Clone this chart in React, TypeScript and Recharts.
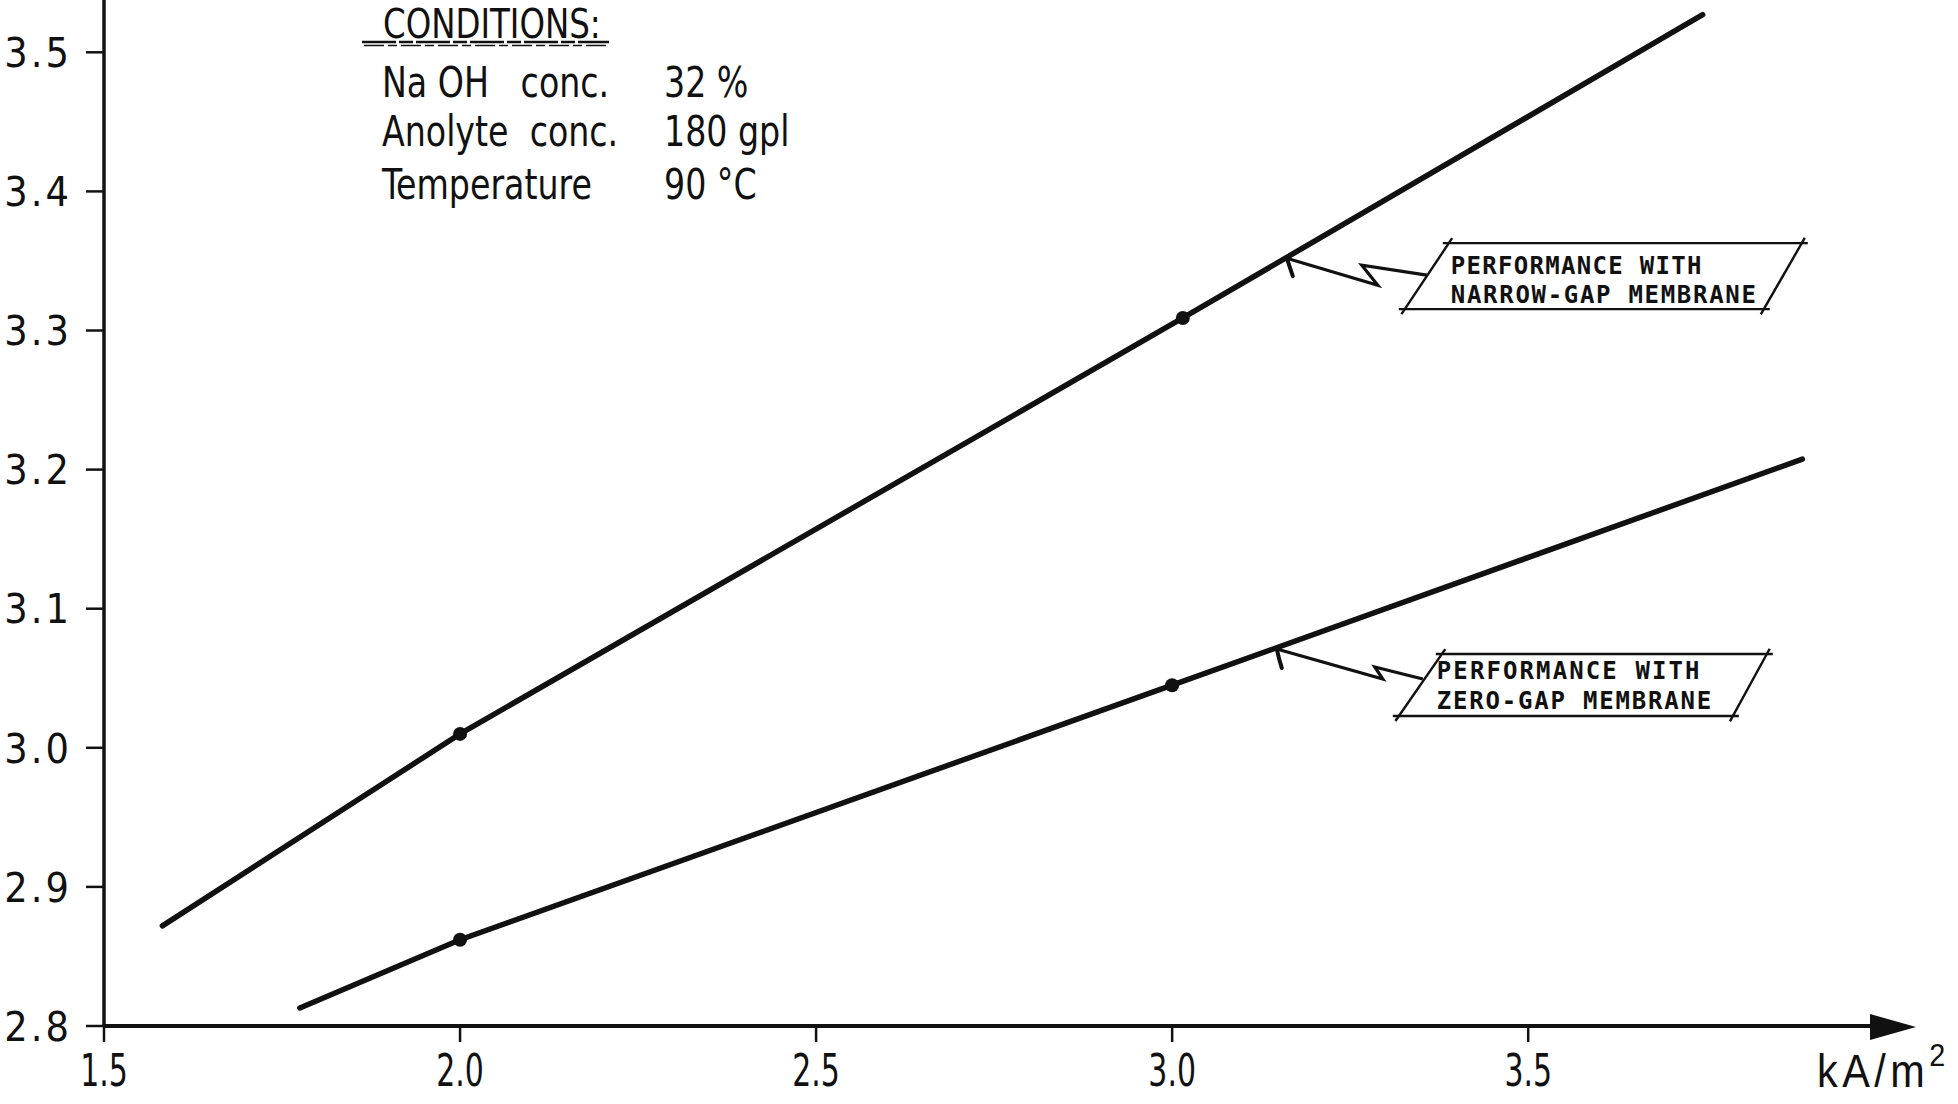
import React from 'react';
import { ComposedChart, Line, Scatter, XAxis, YAxis, ReferenceDot } from 'recharts';

// ---------- data ----------
const X_TICKS = [1.5, 2.0, 2.5, 3.0, 3.5];
const Y_TICKS = [2.8, 2.9, 3.0, 3.1, 3.2, 3.3, 3.4, 3.5];

const narrowX = [1.582, 2.0, 3.015, 3.745];
const narrowY = [2.872, 3.01, 3.309, 3.527];
const narrowMeasuredX = [2.0, 3.015];
const narrowMeasuredY = [3.01, 3.309];

const zeroX = [1.775, 2.0, 3.0, 3.885];
const zeroY = [2.813, 2.862, 3.045, 3.2075];
const zeroMeasuredX = [2.0, 3.0];
const zeroMeasuredY = [2.862, 3.045];

const narrowNote = ['PERFORMANCE WITH', 'NARROW-GAP MEMBRANE'];
const zeroNote = ['PERFORMANCE WITH', 'ZERO-GAP MEMBRANE'];
const narrowNoteAnchor = [3.161, 3.352];
const zeroNoteAnchor = [3.147, 3.071];

const conditionsTitle = 'CONDITIONS:';
const conditionNames = ['Na OH   conc.', 'Anolyte  conc.', 'Temperature'];
const conditionValues = ['32 %', '180 gpl', '90 °C'];
const xUnit = 'kA/m';
const xUnitExp = '2';

const X_DOMAIN = [1.5, 3.98];
const Y_DOMAIN = [2.8, 3.5376];

// ---------- build series ----------
const zip = (xs: number[], ys: number[]) => xs.map((x, i) => ({ x, y: ys[i] }));
const narrowCurve = zip(narrowX, narrowY);
const narrowPoints = zip(narrowMeasuredX, narrowMeasuredY);
const zeroCurve = zip(zeroX, zeroY);
const zeroPoints = zip(zeroMeasuredX, zeroMeasuredY);

const INK = '#111';
const COND = "'DejaVu Sans Condensed', 'DejaVu Sans', sans-serif";
const MONO = "'DejaVu Sans Mono', 'Liberation Mono', monospace";

type Pt = [number, number];

function extLine(a: Pt, b: Pt, ext: number, key: string) {
  const dx = b[0] - a[0];
  const dy = b[1] - a[1];
  const len = Math.hypot(dx, dy) || 1;
  const ux = (dx / len) * ext;
  const uy = (dy / len) * ext;
  return (
    <line
      key={key}
      x1={a[0] - ux}
      y1={a[1] - uy}
      x2={b[0] + ux}
      y2={b[1] + uy}
      stroke={INK}
      strokeWidth={2.4}
    />
  );
}

interface NoteGeom {
  hook: Pt;
  leader: Pt[];
  box: Pt[]; // TL, TR, BR, BL
  textX: number;
  baselines: number[];
  spacing: number[];
}

const narrowGeom: NoteGeom = {
  hook: [6, 18],
  leader: [[0, 0], [91, 27], [75, 7], [140, 17]],
  box: [[162, -15], [515, -15], [477, 51], [118, 51]],
  textX: 164,
  baselines: [16, 45],
  spacing: [1.3, 1.7],
};

const zeroGeom: NoteGeom = {
  hook: [5, 19],
  leader: [[0, 0], [106, 30], [98, 18], [146, 30]],
  box: [[165, 5], [490, 5], [456, 67], [122, 67]],
  textX: 160,
  baselines: [30, 60],
  spacing: [2.1, 1.8],
};

const makeNote = (geom: NoteGeom, lines: string[]) => (props: any) => {
  const cx = props.cx;
  const cy = props.cy;
  if (cx == null || cy == null) return <g />;
  const P = (p: Pt): Pt => [cx + p[0], cy + p[1]];
  const lead = geom.leader.map(P);
  const b = geom.box.map(P);
  return (
    <g>
      <path
        d={`M${cx},${cy} Q${cx + geom.hook[0] - 3},${cy + geom.hook[1] / 2} ${cx + geom.hook[0]},${cy + geom.hook[1]}`}
        stroke={INK}
        strokeWidth={4}
        fill="none"
        strokeLinecap="round"
      />
      <polyline
        points={lead.map((p) => p.join(',')).join(' ')}
        stroke={INK}
        strokeWidth={3.2}
        fill="none"
        strokeLinejoin="miter"
      />
      {extLine(b[0], b[1], 6, 't')}
      {extLine(b[1], b[2], 6, 'r')}
      {extLine(b[3], b[2], 6, 'b')}
      {extLine(b[0], b[3], 6, 'l')}
      {lines.map((t, i) => (
        <text
          key={i}
          x={cx + geom.textX}
          y={cy + geom.baselines[i]}
          fontFamily={MONO}
          fontWeight="bold"
          fontSize={24}
          letterSpacing={geom.spacing[i]}
          fill={INK}
        >
          {t}
        </text>
      ))}
    </g>
  );
};

const NarrowNote = makeNote(narrowGeom, narrowNote);
const ZeroNote = makeNote(zeroGeom, zeroNote);

const MeasuredDot = (props: any) => {
  if (props.cx == null || props.cy == null) return <g />;
  return <circle cx={props.cx} cy={props.cy} r={7} fill={INK} />;
};

const AxisEnd = (props: any) => {
  const vb = props.viewBox || {};
  const ex = (vb.x || 0) + (vb.width || 0);
  const ey = vb.y || 0;
  return (
    <g>
      <polygon points={`${ex},${ey - 12} ${ex + 46},${ey + 1} ${ex},${ey + 14}`} fill={INK} />
      <text
        transform={`translate(${ex - 53},${ey + 61}) scale(0.9,1)`}
        fontFamily="'Liberation Sans', sans-serif"
        fontSize={46}
        letterSpacing={5}
        fill={INK}
      >
        {xUnit}
        <tspan dy={-21} fontSize={32}>
          {xUnitExp}
        </tspan>
      </text>
    </g>
  );
};

const XTick = (props: any) => {
  const { x, y, payload } = props;
  return (
    <text
      transform={`translate(${x},${y}) scale(0.74,1)`}
      textAnchor="middle"
      dy="0.71em"
      fontFamily={COND}
      fontSize={45}
      fill={INK}
    >
      {Number(payload.value).toFixed(1)}
    </text>
  );
};

const YTick = (props: any) => {
  const { x, y, payload } = props;
  return (
    <text x={x} y={y} textAnchor="end" dy="0.36em" fontFamily={COND} fontSize={41} letterSpacing={3} fill={INK}>
      {Number(payload.value).toFixed(1)}
    </text>
  );
};

const CondText = (p: { x: number; y: number; size?: number; children: React.ReactNode }) => (
  <text
    transform={`translate(${p.x},${p.y}) scale(0.88,1)`}
    fontFamily={COND}
    fontSize={p.size || 42}
    fill={INK}
    style={{ whiteSpace: 'pre' }}
  >
    {p.children}
  </text>
);

const ROW_BASE = [97, 146, 199];

export default function App() {
  return (
    <div style={{ position: 'absolute', left: 0, top: 0, width: 1958, height: 1104, background: '#fff' }}>
      <ComposedChart width={1958} height={1104} margin={{ top: 0, right: 88, bottom: 0, left: 0 }}>
        <XAxis
          type="number"
          dataKey="x"
          domain={X_DOMAIN}
          ticks={X_TICKS}
          allowDataOverflow
          height={78}
          tick={XTick}
          tickSize={16}
          tickMargin={12}
          tickLine={{ stroke: INK, strokeWidth: 2.5 }}
          axisLine={{ stroke: INK, strokeWidth: 4 }}
          label={{ content: AxisEnd }}
        />
        <YAxis
          type="number"
          dataKey="y"
          domain={Y_DOMAIN}
          ticks={Y_TICKS}
          allowDataOverflow
          width={104}
          tick={YTick}
          tickSize={18}
          tickMargin={14}
          tickLine={{ stroke: INK, strokeWidth: 2.5 }}
          axisLine={{ stroke: INK, strokeWidth: 3.5 }}
        />
        <Line
          data={narrowCurve}
          dataKey="y"
          type="linear"
          stroke={INK}
          strokeWidth={5.5}
          strokeLinecap="round"
          dot={false}
          activeDot={false}
          isAnimationActive={false}
        />
        <Line
          data={zeroCurve}
          dataKey="y"
          type="linear"
          stroke={INK}
          strokeWidth={5.5}
          strokeLinecap="round"
          dot={false}
          activeDot={false}
          isAnimationActive={false}
        />
        <Scatter data={narrowPoints} dataKey="y" shape={MeasuredDot} isAnimationActive={false} />
        <Scatter data={zeroPoints} dataKey="y" shape={MeasuredDot} isAnimationActive={false} />
        <ReferenceDot x={narrowNoteAnchor[0]} y={narrowNoteAnchor[1]} shape={NarrowNote} />
        <ReferenceDot x={zeroNoteAnchor[0]} y={zeroNoteAnchor[1]} shape={ZeroNote} />
      </ComposedChart>
      <svg width={900} height={240} style={{ position: 'absolute', left: 0, top: 0, pointerEvents: 'none' }}>
        <CondText x={383} y={38} size={41}>
          {conditionsTitle}
        </CondText>
        <line x1={362} y1={42} x2={609} y2={42} stroke={INK} strokeWidth={2.5} strokeDasharray="34 3 14 3" />
        <line x1={364} y1={45.5} x2={607} y2={45.5} stroke={INK} strokeWidth={1.5} strokeDasharray="20 4 9 4" />
        {conditionNames.map((n, i) => (
          <CondText key={'n' + i} x={382} y={ROW_BASE[i]}>
            {n}
          </CondText>
        ))}
        {conditionValues.map((v, i) => (
          <CondText key={'v' + i} x={664} y={ROW_BASE[i]}>
            {v}
          </CondText>
        ))}
      </svg>
    </div>
  );
}
